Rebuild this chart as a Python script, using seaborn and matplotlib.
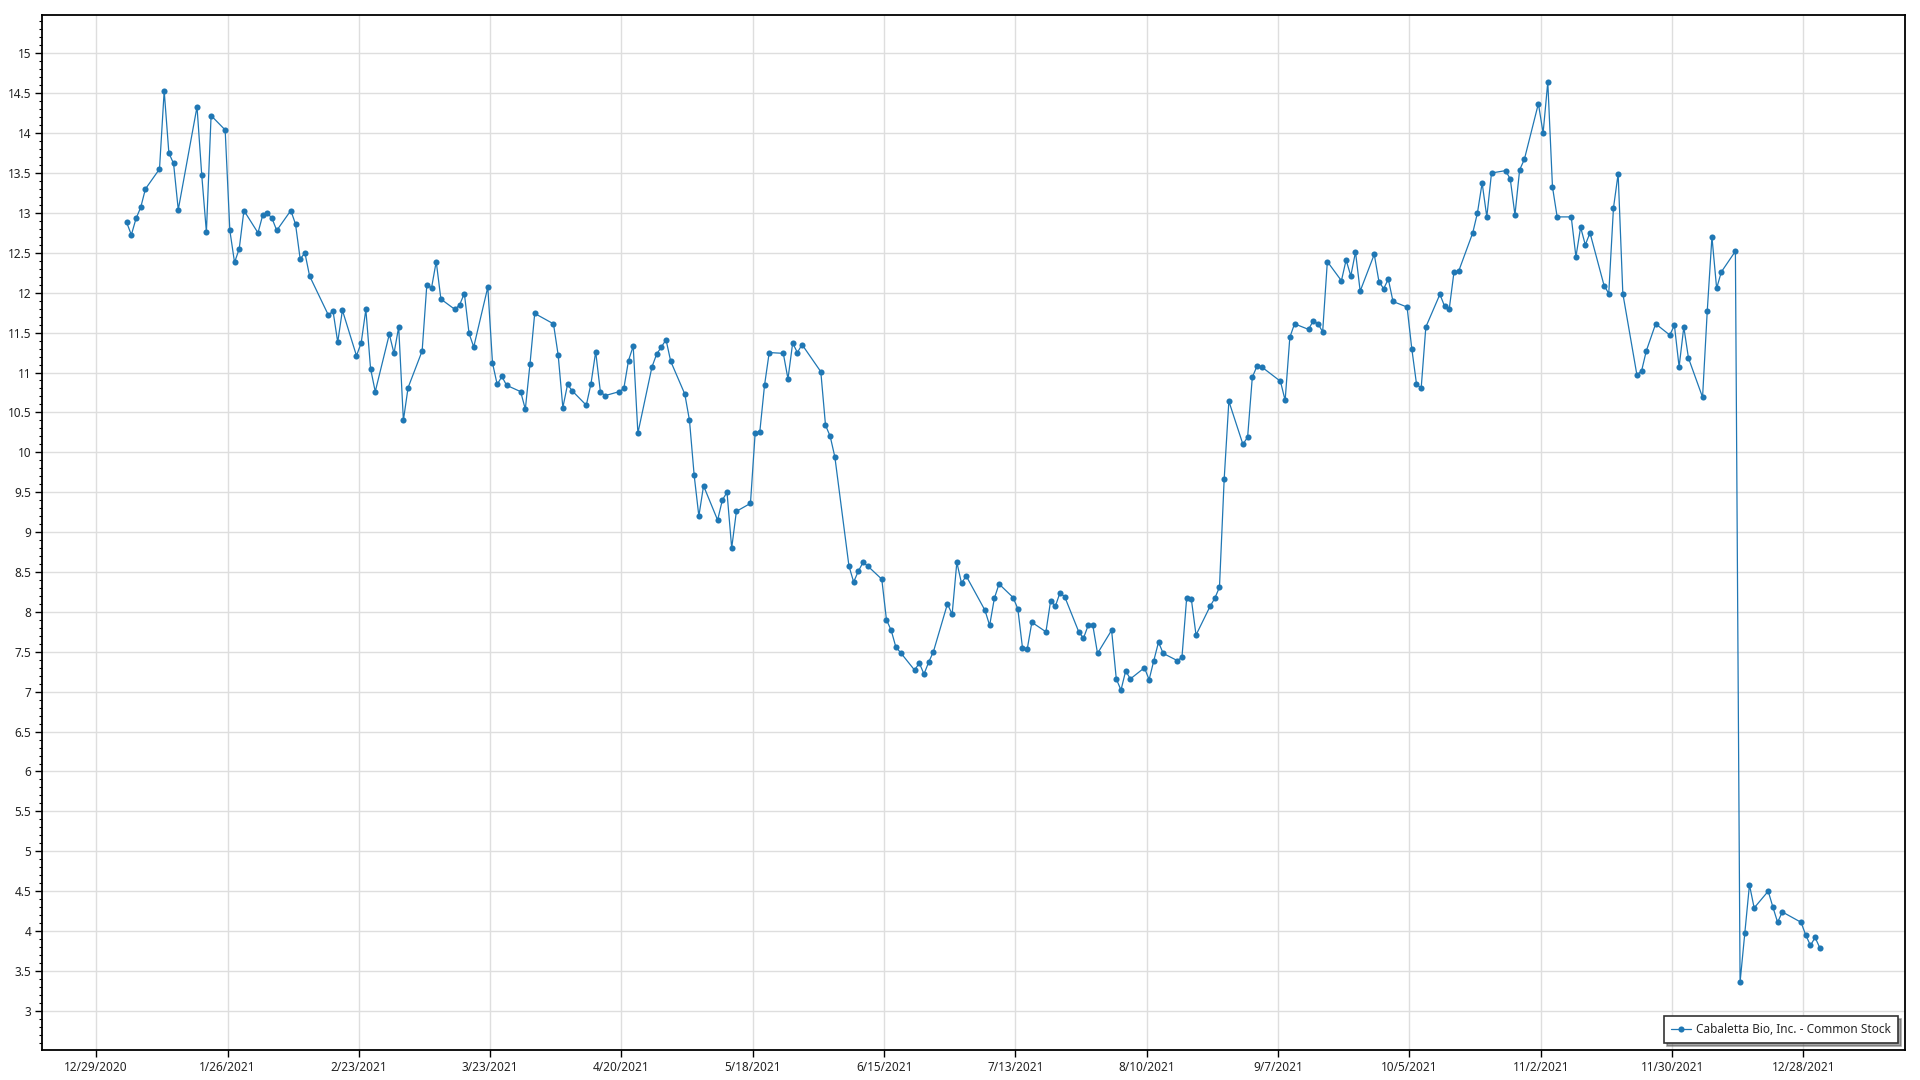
import pandas as pd
import matplotlib
matplotlib.use("Agg")
import matplotlib.pyplot as plt
from matplotlib.ticker import MultipleLocator, FuncFormatter
import seaborn as sns

# ============================================================
# DATA - daily closing price, every trading day of 2021
# ============================================================
series_name = "Cabaletta Bio, Inc. - Common Stock"

# market holidays (no quote on these weekdays)
holidays = ["2021-01-01", "2021-01-18", "2021-02-15", "2021-04-02", "2021-05-31",
            "2021-07-05", "2021-09-06", "2021-11-25", "2021-12-24"]
dates = pd.bdate_range("2021-01-04", "2021-12-31", freq="C", holidays=holidays)

close_jan = [12.88, 12.725, 12.93, 13.07, 13.30, 13.55, 14.53, 13.75, 13.62, 13.04,
             14.33, 13.48, 12.76, 14.22, 14.04, 12.78, 12.38, 12.55, 13.03]
close_feb = [12.75, 12.97, 13.00, 12.93, 12.78, 13.03, 12.86, 12.42, 12.50, 12.21,
             11.72, 11.77, 11.38, 11.78, 11.21, 11.37, 11.79, 11.05, 10.76]
close_mar = [11.48, 11.24, 11.57, 10.40, 10.81, 11.27, 12.10, 12.06, 12.39, 11.92,
             11.79, 11.85, 11.99, 11.49, 11.32, 12.07, 11.12, 10.85, 10.95, 10.84,
             10.76, 10.54, 11.11]
close_apr = [11.74, 11.61, 11.22, 10.56, 10.85, 10.77, 10.59, 10.86, 11.26, 10.76,
             10.71, 10.76, 10.80, 11.15, 11.33, 10.24, 11.07, 11.23, 11.32, 11.41,
             11.14]
close_may = [10.73, 10.40, 9.71, 9.20, 9.58, 9.15, 9.40, 9.50, 8.80, 9.26,
             9.36, 10.24, 10.26, 10.84, 11.25, 11.24, 10.92, 11.37, 11.25, 11.35]
close_jun = [11.01, 10.34, 10.20, 9.94, 8.575, 8.375, 8.51, 8.62, 8.575, 8.41,
             7.90, 7.77, 7.56, 7.49, 7.27, 7.36, 7.22, 7.37, 7.50, 8.10,
             7.97, 8.62]
close_jul = [8.36, 8.45, 8.02, 7.83, 8.17, 8.35, 8.18, 8.04, 7.55, 7.53,
             7.87, 7.75, 8.14, 8.07, 8.24, 8.19, 7.75, 7.67, 7.83, 7.83,
             7.48]
close_aug = [7.77, 7.16, 7.02, 7.26, 7.16, 7.30, 7.15, 7.39, 7.62, 7.48,
             7.39, 7.43, 8.17, 8.16, 7.71, 8.07, 8.17, 8.31, 9.66, 10.64,
             10.10, 10.19]
close_sep = [10.94, 11.08, 11.07, 10.89, 10.65, 11.44, 11.61, 11.54, 11.65, 11.61,
             11.51, 12.39, 12.15, 12.41, 12.21, 12.51, 12.02, 12.48, 12.14, 12.05,
             12.17]
close_oct = [11.89, 11.82, 11.30, 10.86, 10.80, 11.57, 11.98, 11.83, 11.80, 12.26,
             12.27, 12.75, 13.00, 13.375, 12.95, 13.50, 13.53, 13.425, 12.975, 13.54,
             13.67]
close_nov = [14.37, 14.00, 14.64, 13.325, 12.95, 12.95, 12.45, 12.82, 12.60, 12.75,
             12.09, 11.99, 13.06, 13.49, 11.99, 10.97, 11.02, 11.27, 11.61, 11.47,
             11.59]
close_dec = [11.07, 11.57, 11.18, 10.69, 11.77, 12.70, 12.055, 12.26, 12.52, 3.36,
             3.97, 4.58, 4.29, 4.50, 4.30, 4.11, 4.24, 4.11, 3.95, 3.82,
             3.92, 3.79]

close = (close_jan + close_feb + close_mar + close_apr + close_may + close_jun +
         close_jul + close_aug + close_sep + close_oct + close_nov + close_dec)

# x tick dates, every 4 weeks
tick_dates = pd.date_range("2020-12-29", "2021-12-28", freq="28D")

# quotes sit half a day after midnight in the original chart
df = pd.DataFrame({"Date": dates + pd.Timedelta(hours=12), "Close": close})

# ============================================================
# PLOT
# ============================================================
sns.set_style("white")
plt.rcParams['font.family'] = ['Noto Sans', 'DejaVu Sans']

fig = plt.figure(figsize=(19.2, 10.8), dpi=100)
ax = fig.add_axes([0.022, 0.0278, 0.9703, 0.9583])

blue = "#1f77b4"
sns.lineplot(data=df, x="Date", y="Close", ax=ax, color=blue, linewidth=0.9,
             marker="o", markersize=4.4, markeredgewidth=0, label=series_name)

ax.set_xlim(pd.Timestamp("2020-12-17 12:00"), pd.Timestamp("2022-01-18 17:00"))
ax.set_ylim(2.51, 15.48)

ax.set_xticks(tick_dates)
ax.set_xticklabels([f"{d.month}/{d.day}/{d.year}" for d in tick_dates])
ax.yaxis.set_major_locator(MultipleLocator(0.5))
ax.yaxis.set_minor_locator(MultipleLocator(0.1))
ax.yaxis.set_major_formatter(FuncFormatter(lambda v, p: f"{v:g}"))

ax.tick_params(axis="both", which="major", direction="out", length=5, width=1,
               color="black", labelsize=8.5, labelcolor="#222222", pad=3,
               bottom=True, left=True)
ax.tick_params(axis="y", which="minor", direction="out", length=2.5, width=0.8,
               color="black", left=True)

ax.grid(True, which="major", color="#dedede", linewidth=1)
ax.set_axisbelow(True)
for s in ax.spines.values():
    s.set_color("black")
    s.set_linewidth(1.3)

ax.set_xlabel("")
ax.set_ylabel("")

leg = ax.legend(loc="lower right", fontsize=8.5, frameon=True, fancybox=False,
                shadow=True, borderaxespad=0.6, handlelength=1.7,
                handletextpad=0.4, borderpad=0.6)
leg.get_frame().set_edgecolor("#333333")
leg.get_frame().set_linewidth(1.2)

fig.savefig("out.png", dpi=100)
